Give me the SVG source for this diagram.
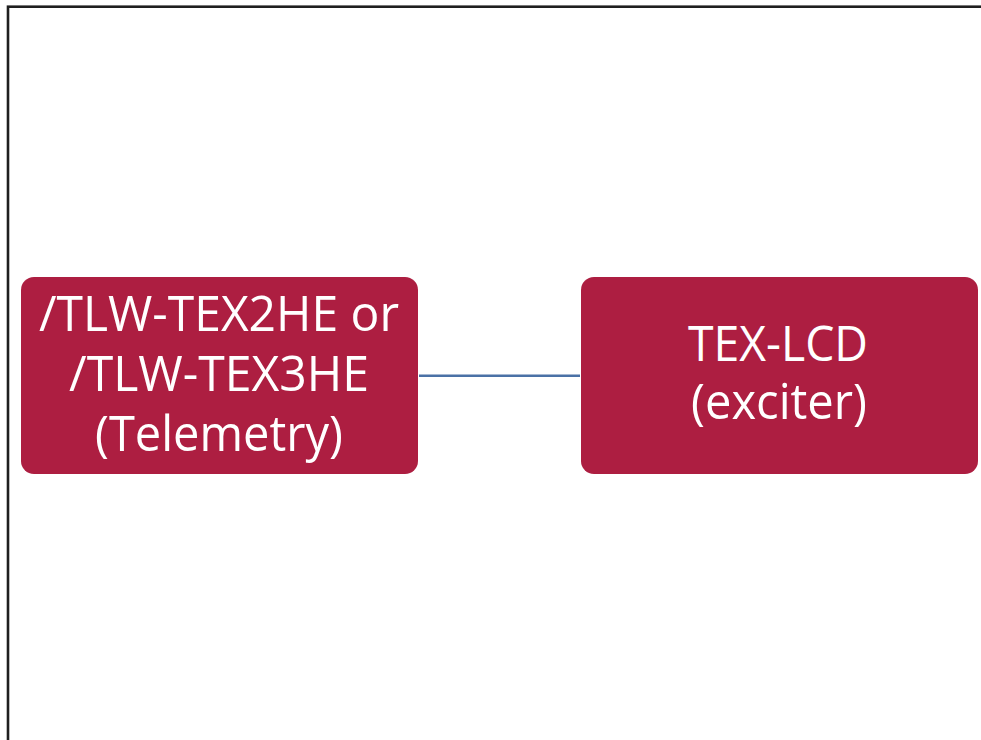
<svg xmlns="http://www.w3.org/2000/svg" width="981" height="740" viewBox="0 0 981 740">
<style>
.frame{fill:none;stroke:#1f1f1f;stroke-width:2.6}
.box{fill:#AD1E41}
.lbl{fill:#ffffff;font-family:"Open Sans","Noto Sans","Liberation Sans",sans-serif;font-size:49px;text-anchor:middle}
.conn{stroke:#4A71A6;stroke-width:2.4;fill:none}
</style>
<rect x="0" y="0" width="981" height="740" fill="#ffffff"/>
<rect class="frame" x="8" y="6.7" width="1000" height="800"/>
<g id="connectors">
<line class="conn" x1="419" y1="375.7" x2="580" y2="375.7"/>
</g>
<g id="node-telemetry">
<rect class="box" x="21" y="277" width="397" height="197" rx="13" ry="13"/>
<text class="lbl" x="219" y="331" textLength="360" lengthAdjust="spacingAndGlyphs">/TLW-TEX2HE or</text>
<text class="lbl" x="219" y="391" textLength="300" lengthAdjust="spacingAndGlyphs">/TLW-TEX3HE</text>
<text class="lbl" x="219" y="451" textLength="248" lengthAdjust="spacingAndGlyphs">(Telemetry)</text>
</g>
<g id="node-exciter">
<rect class="box" x="581" y="277" width="397" height="197" rx="13" ry="13"/>
<text class="lbl" x="778" y="361" textLength="180" lengthAdjust="spacingAndGlyphs">TEX-LCD</text>
<text class="lbl" x="779" y="419" textLength="176" lengthAdjust="spacingAndGlyphs">(exciter)</text>
</g>
</svg>
